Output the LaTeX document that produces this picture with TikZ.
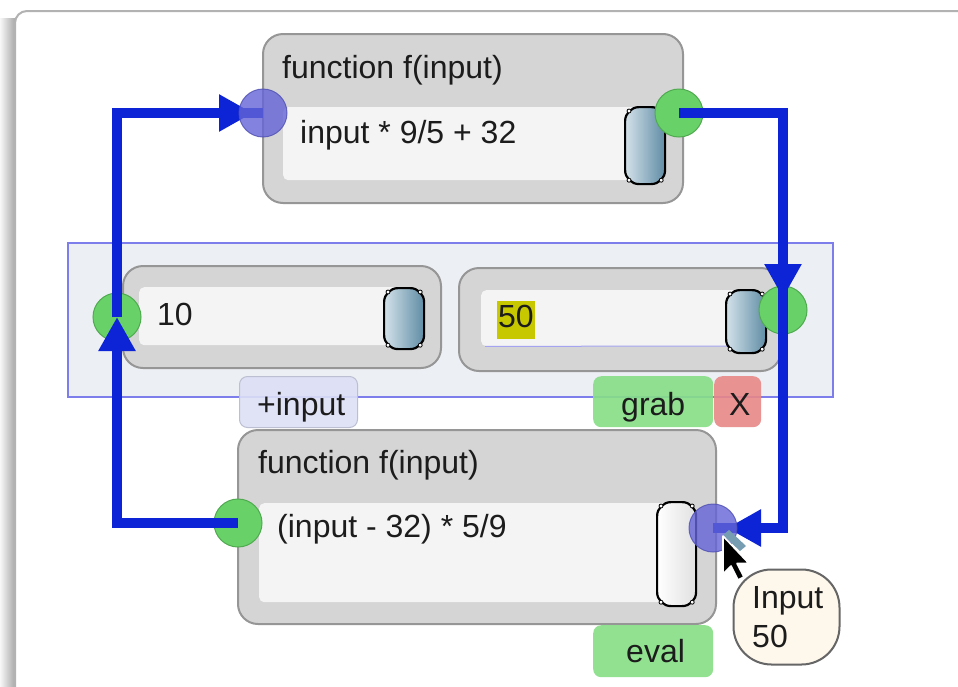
\documentclass[tikz,border=0pt]{standalone}
\usepackage{fontspec}
\setmainfont{Liberation Sans}
\usetikzlibrary{arrows.meta}

\definecolor{wire}{RGB}{12,36,214}
\definecolor{fgray}{RGB}{213,213,213}
\definecolor{fedge}{RGB}{150,150,150}
\definecolor{fieldbg}{RGB}{244,244,244}
\definecolor{grp}{RGB}{236,239,244}
\definecolor{grpedge}{RGB}{125,125,235}
\definecolor{pgreen}{RGB}{104,210,104}
\definecolor{pgreenedge}{RGB}{80,170,80}
\definecolor{pblue}{RGB}{100,100,215}
\definecolor{pblueedge}{RGB}{80,80,180}
\definecolor{btngreen}{RGB}{134,222,134}
\definecolor{btnred}{RGB}{232,136,136}
\definecolor{tabfill}{RGB}{221,223,246}
\definecolor{hilite}{RGB}{200,200,0}
\definecolor{tipfill}{RGB}{253,247,236}
\definecolor{knobdark}{RGB}{95,140,165}
\definecolor{knoblight}{RGB}{212,226,234}
\definecolor{ink}{RGB}{28,28,28}

\pgfdeclarelayer{over}
\pgfsetlayers{main,over}

% small round grips at the corners of a slider knob
\newcommand\knobgrips[1]{%
  \foreach \a/\dx/\dy in {north west/5/5,north east/-5/5,south west/5/-5,south east/-5/-5}
    \draw[black,fill=white,line width=0.8pt] ([shift={(\dx,\dy)}]#1.\a) circle (2pt);}

\begin{document}
\begin{tikzpicture}[x=1pt,y=-1pt,
  font=\fontsize{32}{39}\selectfont, text=ink,
  txt/.style={anchor=base west,inner sep=0pt},
  fbox/.style={draw=fedge,line width=2pt,fill=fgray,rounded corners=20pt,anchor=north west,inner sep=0pt},
  field/.style={fill=fieldbg,rounded corners=5pt,anchor=north west,inner sep=0pt},
  knob/.style={draw=black,line width=2.2pt,rounded corners=14pt,left color=knoblight,right color=knobdark,anchor=north west,inner sep=0pt,minimum width=40pt},
  wknob/.style={knob,left color=white,right color=black!12},
  gport/.style={circle,fill=pgreen,draw=pgreenedge,line width=1pt,minimum size=48pt,inner sep=0pt},
  bport/.style={circle,fill=pblue,draw=pblueedge,line width=1pt,fill opacity=0.8,draw opacity=0.8,minimum size=48pt,inner sep=0pt},
  btn/.style={rounded corners=8pt,anchor=north west,inner sep=0pt,minimum height=51pt,fill opacity=0.9},
  wire/.style={draw=wire,line width=9.5pt},
  arr/.style={wire,-{Triangle[length=34pt,width=35pt]}},
]
\useasboundingbox (0,0) rectangle (958,686);

% window frame with its shadow
\fill[white] (0,0) rectangle (958,686);
\shade[left color=black!3,right color=black!34] (0,18) rectangle (15,686);
\fill[white,rounded corners=12pt] (15,700) |- (975,11) -- (975,700) -- cycle;
\draw[black!30,line width=2pt,rounded corners=12pt] (15,700) |- (975,11);

% selection group around the two value boxes
\node[draw=grpedge,line width=1.5pt,fill=grp,anchor=north west,inner sep=0pt,
      minimum width=765pt,minimum height=154pt] (group) at (67,242) {};

% upper function block
\node[fbox,minimum width=420pt,minimum height=169pt] (fn1) at (262,33) {};
\node[field,minimum width=357pt,minimum height=73pt] (fld1) at (283,107) {};
\node[knob,minimum height=77pt] (k1) at (624,106) {};
\knobgrips{k1}
\node[txt] (ttl1) at (282,78) {function f(input)};
\node[txt] (expr1) at (300,143) {input * 9/5 + 32};

% value box 10
\node[fbox,minimum width=318pt,minimum height=102pt] (val1) at (122,265) {};
\node[field,minimum width=260pt,minimum height=58pt] (fld2) at (139,287) {};
\node[knob,minimum height=61pt] (k2) at (383,287) {};
\knobgrips{k2}
\node[txt] (num1) at (157,325) {10};

% value box 50
\node[fbox,minimum width=322pt,minimum height=103pt] (val2) at (458,267) {};
\node[field,minimum width=260pt,minimum height=56pt] (fld3) at (481,290) {};
\draw[grpedge!70,line width=1pt] (fld3.south west) ++(4,0) -- (729,346);
\node[knob,minimum height=63pt] (k3) at (725,289) {};
\knobgrips{k3}
\node[fill=hilite,anchor=north west,inner sep=0pt,minimum width=38pt,minimum height=38pt] (hl) at (497,301) {};
\node[txt] (num2) at (498,327) {50};

% buttons under the group
\node[btn,fill=tabfill,draw=tabfill!85!black,line width=1pt,minimum width=118pt] (addin) at (239,376) {};
\node[txt] (addtxt) at (257,415) {+input};
\node[btn,fill=btngreen,minimum width=120pt] (grab) at (593,376) {};
\node[txt] (grabtxt) at (621,415) {grab};
\node[btn,fill=btnred,minimum width=47pt] (close) at (714,376) {};
\node[txt] (closetxt) at (729,415) {X};

% lower function block
\node[fbox,minimum width=478pt,minimum height=194pt] (fn2) at (237,429) {};
\node[field,minimum width=411pt,minimum height=99pt] (fld4) at (259,503) {};
\node[wknob,minimum width=39pt,minimum height=104pt] (k4) at (656,501) {};
\knobgrips{k4}
\node[txt] (ttl2) at (258,473) {function f(input)};
\node[txt] (expr2) at (277,537) {(input - 32) * 5/9};

\node[btn,fill=btngreen,minimum width=120pt,minimum height=52pt] (eval) at (593,625) {};
\node[txt] (evaltxt) at (626,662) {eval};

% output ports (under the wires)
\node[gport] (tr) at (679,113) {};
\node[gport] (lv) at (117,317) {};
\node[gport] (rv) at (783,310) {};
\node[gport] (bl) at (238,523) {};

% input ports, tooltip and pointer (over the wires)
\begin{pgfonlayer}{over}
\node[bport] (tl) at (263,113) {};
\node[bport] (br) at (713,528) {};

\fill[knobdark!85] (723,535) -- (729,530) -- (746,546) -- (740,551) -- cycle;
\filldraw[fill=black,draw=white,line width=1.6pt,line join=round]
  (723,536) -- ++(0,38) -- ++(8,-8) -- ++(7,14) -- ++(6,-3) -- ++(-7,-13.5) -- ++(12,0) -- cycle;

\node[draw=black!60,line width=2pt,fill=tipfill,rounded corners=38pt,
      minimum width=106pt,minimum height=95pt,inner sep=0pt] (tip) at (786.5,617) {};
\node[txt] (tip1) at (752,608) {Input};
\node[txt] (tip2) at (752,647) {50};
\end{pgfonlayer}

% connectors
\draw[arr] (bl.center) -| (lv.center);
\draw[wire] (lv.center) |- (tl.center);
\draw[arr,shorten >=10pt] (lv.center) |- (tl.center);
\draw[wire] (tr.center) -| (rv.center);
\draw[arr,shorten >=12pt] (tr.center) -| (rv.center);
\draw[wire] (rv.center) |- (br.center);
\draw[arr,shorten >=14pt] (rv.center) |- (br.center);
\end{tikzpicture}
\end{document}
